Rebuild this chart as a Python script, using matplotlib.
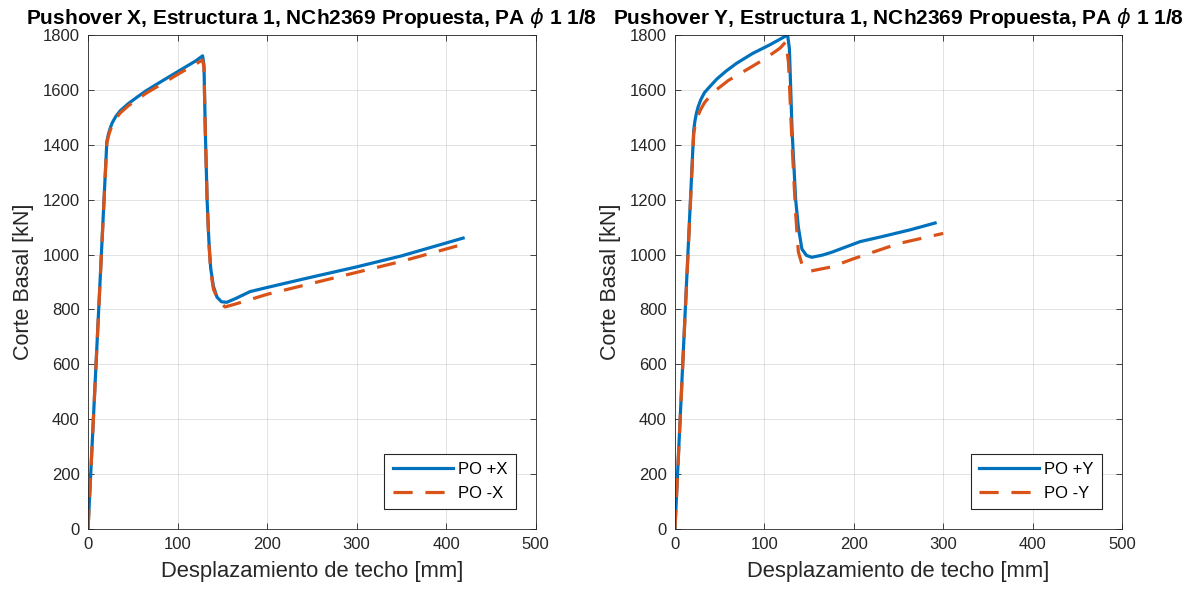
import matplotlib
matplotlib.use("Agg")
import matplotlib.pyplot as plt

plt.rcParams['font.family'] = ['Liberation Sans', 'DejaVu Sans']

# Pushover X
x_pos_x = [0, 21, 22.5, 24.5, 27, 31, 36, 45, 55, 65, 80, 103, 120, 128, 129.5, 131, 133, 135, 137, 140, 144, 149, 155, 165, 181, 200, 250, 300, 350, 419]
v_pos_x = [0, 1411, 1435, 1458, 1480, 1503, 1524, 1550, 1574, 1597, 1627, 1672, 1705, 1724, 1690, 1450, 1200, 1050, 950, 885, 845, 828, 826, 840, 865, 880, 918, 955, 995, 1060]
x_neg_x = [0, 21, 22.5, 24.5, 27, 31, 36, 45, 55, 65, 80, 103, 120, 128, 129.5, 131, 133, 135, 137, 140, 145, 153, 165, 200, 250, 300, 350, 423]
v_neg_x = [0, 1405, 1428, 1450, 1472, 1495, 1516, 1542, 1565, 1588, 1617, 1662, 1694, 1709, 1680, 1450, 1200, 1040, 940, 875, 835, 809, 820, 855, 895, 935, 975, 1041]

# Pushover Y
x_pos_y = [0, 21, 22.5, 24, 26, 29, 33, 39, 47, 57, 69, 87, 106, 126, 128, 131, 135, 138, 142, 147, 153, 165, 175, 207, 235, 263, 291]
v_pos_y = [0, 1454, 1490, 1515, 1539, 1565, 1590, 1612, 1640, 1668, 1697, 1733, 1764, 1800, 1750, 1450, 1200, 1100, 1020, 997, 990, 998, 1008, 1047, 1068, 1090, 1115]
x_neg_y = [0, 21, 22.5, 24, 26, 29, 33, 39, 47, 60, 80, 100, 117.5, 124, 127, 131, 135, 138, 142, 148, 152, 175, 200, 250, 300]
v_neg_y = [0, 1440, 1470, 1490, 1508, 1530, 1553, 1577, 1602, 1635, 1673, 1712, 1752, 1775, 1700, 1400, 1150, 1010, 965, 942, 940, 955, 985, 1040, 1077]

titles = ['Pushover X, Estructura 1, NCh2369 Propuesta, PA $\\phi$ 1 1/8',
          'Pushover Y, Estructura 1, NCh2369 Propuesta, PA $\\phi$ 1 1/8']
legend_labels = [['PO +X', 'PO -X'], ['PO +Y', 'PO -Y']]
xticks = [0, 100, 200, 300, 400, 500]
yticks = [0, 200, 400, 600, 800, 1000, 1200, 1400, 1600, 1800]

blue = '#0072BD'
orange = '#D95319'
tc = '#262626'

fig = plt.figure(figsize=(12.01, 5.90), dpi=100)
ax1 = fig.add_axes([0.0733, 0.1034, 0.3727, 0.8373])
ax2 = fig.add_axes([0.562, 0.1034, 0.3722, 0.8373])

data = [((x_pos_x, v_pos_x), (x_neg_x, v_neg_x)), ((x_pos_y, v_pos_y), (x_neg_y, v_neg_y))]

for ax, (pos, neg), title, labs in zip([ax1, ax2], data, titles, legend_labels):
    ax.plot(pos[0], pos[1], color=blue, lw=2.3, label=labs[0], solid_joinstyle='round')
    ax.plot(neg[0], neg[1], color=orange, lw=2.3, ls=(0, (6, 4)), label=labs[1])
    ax.set_xlim(0, 500)
    ax.set_ylim(0, 1800)
    ax.set_xticks(xticks)
    ax.set_yticks(yticks)
    ax.grid(True, color='#262626', alpha=0.15, lw=0.6)
    ax.tick_params(direction='in', top=True, right=True, labelsize=12, colors=tc, length=4, width=0.6, pad=6)
    for s in ax.spines.values():
        s.set_color(tc)
        s.set_linewidth(0.6)
    ax.set_xlabel('Desplazamiento de techo [mm]', fontsize=15.8, color=tc, labelpad=6)
    ax.set_ylabel('Corte Basal [kN]', fontsize=15.5, color=tc, labelpad=6)
    ax.set_title(title, fontsize=15, fontweight='bold', pad=8)
    leg = ax.legend(loc='lower right', fontsize=12, fancybox=False, edgecolor=tc,
                    framealpha=1, handlelength=3.6, borderaxespad=1.2, handletextpad=0.3,
                    labelspacing=0.5, borderpad=0.5)
    leg.get_frame().set_linewidth(0.8)

fig.savefig('out.png', dpi=100)
